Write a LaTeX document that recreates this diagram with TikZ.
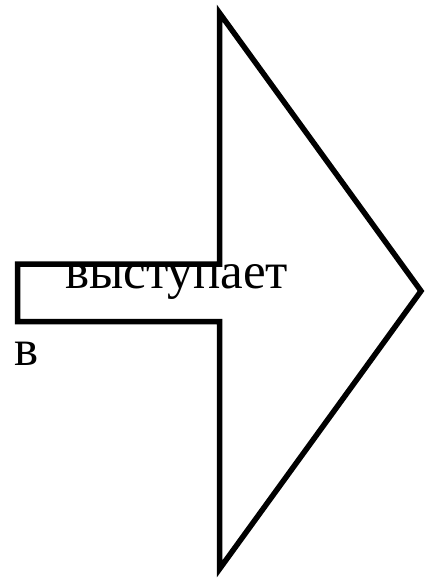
\documentclass[tikz,border=0pt]{standalone}
\usepackage{fontspec}
\setmainfont{Liberation Serif}
\usepackage{tikz}

\begin{document}
\begin{tikzpicture}[x=1pt,y=-1pt]
    \useasboundingbox (0,0) rectangle (424,578);
    % arrow shape
    \draw[line width=5.5pt,miter limit=20] (17.5,264) -- (219.5,264) -- (219.5,13) -- (421,291)
        -- (219.5,569) -- (219.5,321.5) -- (17.5,321.5) -- cycle;
    \node[anchor=base west,inner sep=0pt,font=\fontsize{51}{61}\selectfont] (word) at (65,288) {выступает};
    \node[anchor=base west,inner sep=0pt,font=\fontsize{51}{61}\selectfont] (prep) at (14,365) {в};
\end{tikzpicture}
\end{document}
